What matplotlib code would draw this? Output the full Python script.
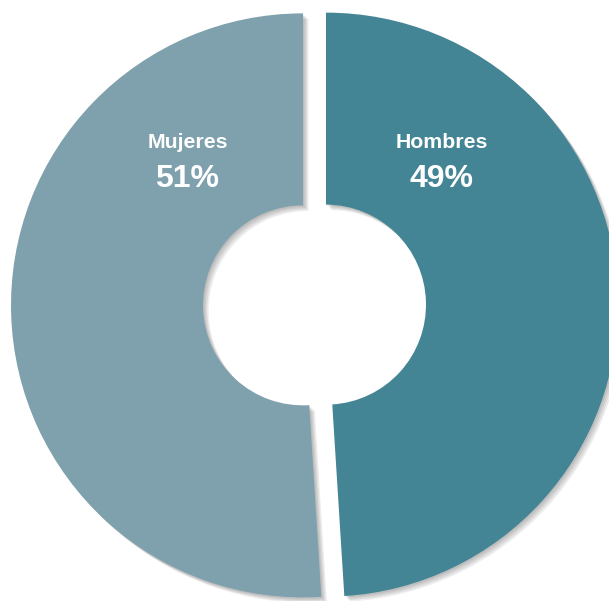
import numpy as np
import matplotlib.pyplot as plt
import matplotlib.patheffects as pe

# ---------- datos ----------
categorias = ["Hombres", "Mujeres"]
porcentajes = [49, 51]
colores = ["#438595", "#7fa1ad"]

W, H = 609, 601
cx, cy = 314.5, H - 305
R, r = 292, 100

fig = plt.figure(figsize=(W / 100, H / 100), dpi=100)
ax = fig.add_axes([0, 0, 1, 1])

# explode en unidades de datos (pixeles aqui)
wedges, _ = ax.pie(
    porcentajes,
    colors=colores,
    startangle=90,
    counterclock=False,
    radius=R,
    center=(cx, cy),
    explode=[11.5, 11.5],
    wedgeprops=dict(width=R - r, linewidth=0),
)
# sombra suave: varias capas con poca opacidad
sombra = [pe.SimplePatchShadow(offset=(k, -k), shadow_rgbFace="black", alpha=0.07)
          for k in (4, 3, 2, 1)]
for w in wedges:
    w.set_path_effects(sombra + [pe.Normal()])

# ---------- etiquetas ----------
for w, cat, pct in zip(wedges, categorias, porcentajes):
    ang = np.deg2rad((w.theta1 + w.theta2) / 2)
    lx = cx + 127 * np.sign(np.cos(ang))
    ax.text(lx, cy + 163, cat, ha="center", va="center", color="white",
            fontsize=15.3, fontweight="bold", family="Liberation Sans")
    ax.text(lx, cy + 126, f"{pct}%", ha="center", va="center", color="white",
            fontsize=23, fontweight="bold", family="Liberation Sans")

ax.set_xlim(0, W)
ax.set_ylim(0, H)
ax.set_aspect("equal")
ax.axis("off")

fig.savefig("out.png", dpi=100)
